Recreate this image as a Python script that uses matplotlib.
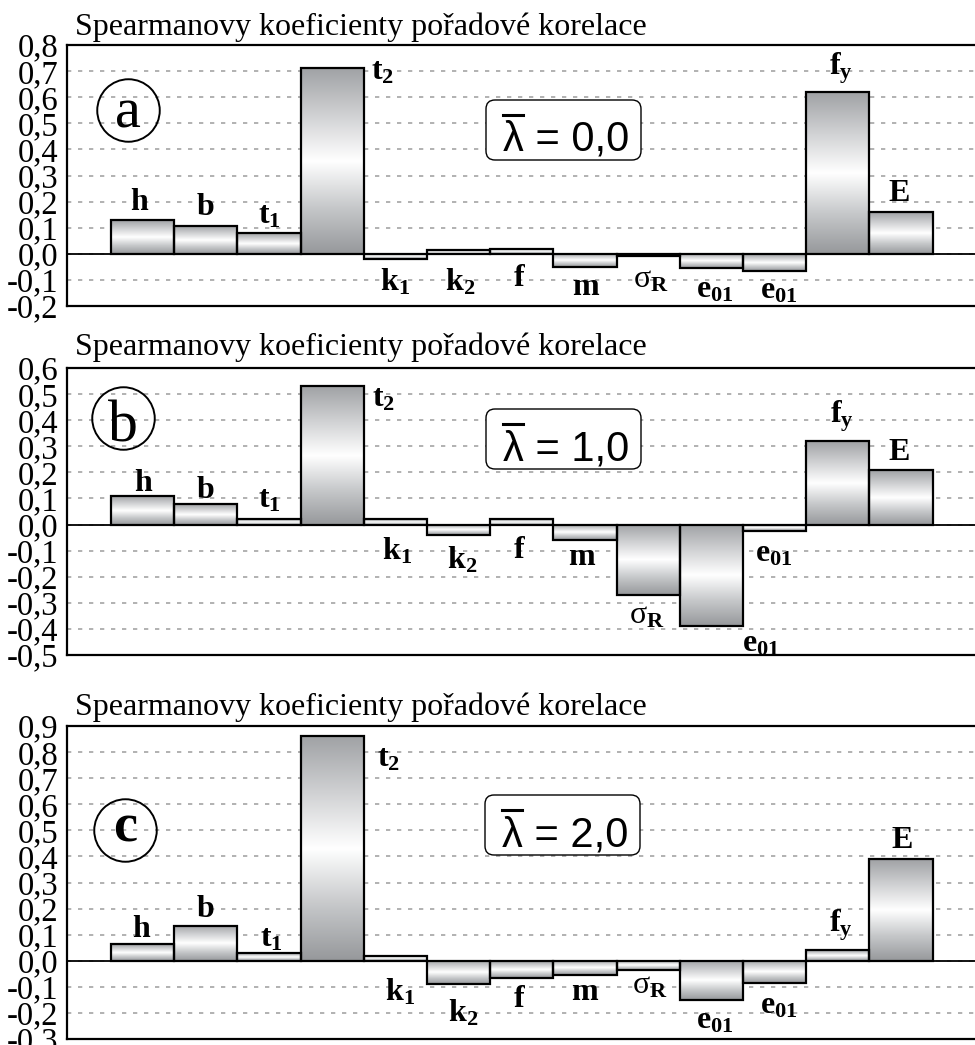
import numpy as np
import matplotlib
matplotlib.use("Agg")
import matplotlib.pyplot as plt
from matplotlib.colors import LinearSegmentedColormap
from matplotlib.patches import FancyBboxPatch
from matplotlib.lines import Line2D
from matplotlib.transforms import Affine2D

plt.rcParams["mathtext.fontset"] = "custom"
plt.rcParams["mathtext.rm"] = "Liberation Serif"
plt.rcParams["mathtext.bf"] = "Liberation Serif:bold"
plt.rcParams["mathtext.it"] = "Liberation Serif:italic"

# ---------------------------------------------------------------- data
parameters = [r"$\mathbf{h}$", r"$\mathbf{b}$", r"$\mathbf{t_1}$", r"$\mathbf{t_2}$",
              r"$\mathbf{k_1}$", r"$\mathbf{k_2}$", r"$\mathbf{f}$", r"$\mathbf{m}$",
              r"$\mathrm{\sigma}_\mathbf{R}$", r"$\mathbf{e_{01}}$", r"$\mathbf{e_{01}}$",
              r"$\mathbf{f_y}$", r"$\mathbf{E}$"]

rho_a = [0.13, 0.105, 0.08, 0.71, -0.02, 0.015, 0.02, -0.05, -0.01, -0.055, -0.065, 0.62, 0.16]
rho_b = [0.11, 0.08, 0.02, 0.53, 0.02, -0.04, 0.02, -0.06, -0.27, -0.39, -0.025, 0.32, 0.21]
rho_c = [0.065, 0.135, 0.03, 0.86, 0.02, -0.09, -0.065, -0.055, -0.035, -0.15, -0.085, 0.04, 0.39]

lambda_values = ["0,0", "1,0", "2,0"]
panel_letters = ["a", "b", "c"]
y_ranges = [(-0.2, 0.8), (-0.5, 0.6), (-0.3, 0.9)]
title = "Spearmanovy koeficienty pořadové korelace"

# ---------------------------------------------------------------- layout
# label anchor points (bar position, correlation units)
label_xy_a = [(0.96, 0.20), (1.99, 0.18), (3.0, 0.15), (4.8, 0.70), (4.99, -0.108),
              (6.02, -0.108), (6.96, -0.089), (8.02, -0.127), (9.04, -0.095),
              (10.06, -0.133), (11.06, -0.14), (12.05, 0.71), (12.97, 0.233)]
label_xy_b = [(1.01, 0.16), (1.99, 0.134), (3.0, 0.096), (4.81, 0.485), (5.02, -0.102),
              (6.05, -0.134), (6.96, -0.096), (7.95, -0.121), (8.98, -0.345),
              (10.78, -0.453), (10.98, -0.108), (12.06, 0.415), (12.97, 0.28)]
label_xy_c = [(0.99, 0.125), (1.99, 0.20), (3.04, 0.087), (4.89, 0.777), (5.07, -0.118),
              (6.07, -0.20), (6.96, -0.143), (8.0, -0.118), (9.03, -0.092),
              (10.06, -0.226), (11.06, -0.169), (12.05, 0.138), (13.01, 0.464)]

W, H = 975, 1045
panel_box = [(45, 306), (368, 655), (726, 1039)]          # top / bottom of each axes (px)
title_base = [35, 355, 715]
circle_xy = [(128, 110, 127), (123, 418, 441), (125, 830, 842)]  # centre x, centre y, letter baseline
letter_style = [dict(size=42, weight="normal"), dict(size=43, weight="normal"),
                dict(size=39, weight="bold")]
lam_box = [(486, 100), (486, 409), (485, 795)]

fig = plt.figure(figsize=(W / 100, H / 100), dpi=100)
px = Affine2D().scale(1, -1).translate(0, H).scale(1 / W, 1 / H) + fig.transFigure

bar_cmap = LinearSegmentedColormap.from_list(
    "bar", [(0.0, "#96989b"), (0.25, "#c6c8ca"), (0.5, "#ffffff"),
            (0.75, "#d0d1d3"), (1.0, "#a0a2a5")])
gradient = np.linspace(0, 1, 256).reshape(-1, 1)

x_left, x_right = -0.196, 14.17
positions = np.arange(1, len(parameters) + 1)

for k, (rho, labels_xy) in enumerate(zip([rho_a, rho_b, rho_c],
                                          [label_xy_a, label_xy_b, label_xy_c])):
    top, bot = panel_box[k]
    ax = fig.add_axes([67 / W, 1 - bot / H, (W - 67) / W, (bot - top) / H])
    lo, hi = y_ranges[k]

    for x, v in zip(positions, rho):
        ax.imshow(gradient, extent=(x - 0.5, x + 0.5, min(0, v), max(0, v)),
                  origin="lower", cmap=bar_cmap, aspect="auto",
                  interpolation="bilinear", zorder=2)
    ax.bar(positions, rho, width=1.0, fill=False, edgecolor="black",
           linewidth=1.6, zorder=3)
    ax.axhline(0, color="black", linewidth=1.3, zorder=1.5)

    for lab, (lx, ly) in zip(parameters, labels_xy):
        ax.text(lx, ly, lab, ha="center", va="center", fontsize=23, zorder=4)

    ticks = np.round(np.arange(lo, hi + 1e-9, 0.1), 1)
    ax.set_yticks(ticks)
    ax.set_yticklabels([f"{t:.1f}".replace(".", ",").replace("-0,0", "0,0") for t in ticks],
                       fontfamily="Liberation Serif", fontsize=23.5)
    ax.set_xticks([])
    ax.set_xlim(x_left, x_right)
    ax.set_ylim(lo, hi)
    ax.tick_params(axis="y", length=0, pad=6)
    ax.yaxis.grid(True, color="#9c9c9c", linestyle=(0, (2.8, 4.4)), linewidth=1.1)
    ax.set_axisbelow(True)
    for side in ["top", "left", "bottom"]:
        ax.spines[side].set_linewidth(1.6)
    ax.spines["right"].set_visible(False)

    # heading above the plot frame
    fig.text(75, title_base[k], title, transform=px, fontfamily="Liberation Serif",
             fontsize=23, va="baseline", ha="left")

    # circled panel letter
    cx, cy, cb = circle_xy[k]
    fig.add_artist(Line2D([cx], [cy], transform=px, marker="o", markersize=45,
                          markerfacecolor="none", markeredgecolor="black",
                          markeredgewidth=1.4))
    fig.text(cx, cb, panel_letters[k], transform=px, fontfamily="Liberation Serif",
             ha="center", va="baseline", fontsize=letter_style[k]["size"],
             fontweight=letter_style[k]["weight"])

    # mean slenderness box
    bx, by = lam_box[k]
    fig.add_artist(FancyBboxPatch((bx, by), 155, 60, transform=px,
                                  boxstyle="round,pad=0,rounding_size=9",
                                  facecolor="white", edgecolor="black", linewidth=1.0,
                                  zorder=5))
    fig.text(bx + 17, by + 51, "λ = " + lambda_values[k], transform=px,
             fontfamily="Liberation Sans", fontsize=30, va="baseline", ha="left",
             zorder=6)
    fig.add_artist(Line2D([bx + 17, bx + 37], [by + 15, by + 15], transform=px,
                          color="black", linewidth=2.2, zorder=6))

fig.savefig("out.png", dpi=100)
